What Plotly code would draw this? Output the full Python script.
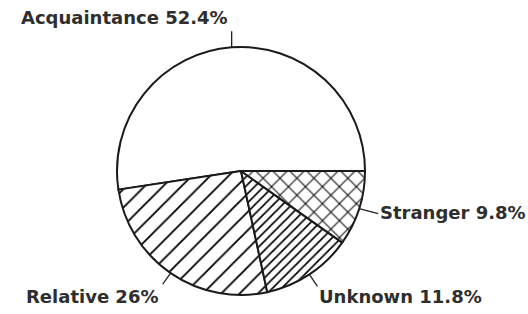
import math
import plotly.graph_objects as go

labels = ["Acquaintance", "Relative", "Unknown", "Stranger"]
values = [52.4, 26.0, 11.8, 9.8]
value_text = ["52.4%", "26%", "11.8%", "9.8%"]

W, H = 528, 314
CX, CY, R = 241, 171, 124  # pie centre / radius in pixels

pat_shape = ["", "/", "/", "x"]
pat_size = [8, 13, 6.5, 12]
pat_solid = [0.2, 0.14, 0.26, 0.16]

def px(x):
    return x / W

def py(y):
    return 1 - y / H

total = sum(values)
# first slice spans counterclockwise from 3 o'clock
rotation = 90 - 360 * values[0] / total

fig = go.Figure(go.Pie(
    labels=labels, values=values, sort=False, direction="counterclockwise",
    rotation=rotation, textinfo="none", showlegend=False,
    marker=dict(colors=["white"] * 4, line=dict(color="#1a1a1a", width=2),
                pattern=dict(shape=pat_shape, size=pat_size, solidity=pat_solid,
                             fgcolor="#000000", fgopacity=1, bgcolor="white",
                             fillmode="overlay")),
    domain=dict(x=[px(CX - R), px(CX + R)], y=[py(CY + R), py(CY - R)]),
))

# leader line offsets (pixels) and label anchors
leaders = [(0, -16), (-8, 11), (8, 12), (19, 5)]
text_off = [(-2, -14), (-3, 12), (0, 10), (0, -1)]
anchors = [("right", "middle"), ("right", "middle"), ("left", "middle"), ("left", "middle")]

cum = 0
shapes = []
annotations = []
for i, v in enumerate(values):
    mid = 2 * math.pi * (cum + v / 2) / total
    cum += v
    x0 = CX + R * math.cos(mid)
    y0 = CY - R * math.sin(mid)
    x1 = x0 + leaders[i][0]
    y1 = y0 + leaders[i][1]
    shapes.append(dict(type="line", xref="paper", yref="paper",
                       x0=px(x0), y0=py(y0), x1=px(x1), y1=py(y1),
                       line=dict(color="#222", width=1.3)))
    tx = x1 + text_off[i][0]
    ty = y1 + text_off[i][1]
    annotations.append(dict(x=px(tx), y=py(ty), xref="paper", yref="paper",
                            text=f"<b>{labels[i]} {value_text[i]}</b>", showarrow=False,
                            xanchor=anchors[i][0], yanchor=anchors[i][1],
                            font=dict(family="DejaVu Sans", size=18, color="#2e2e2e")))

fig.update_layout(width=W, height=H, margin=dict(l=0, r=0, t=0, b=0),
                  paper_bgcolor="white", plot_bgcolor="white",
                  shapes=shapes, annotations=annotations)
fig.write_html("out.html", config={"displayModeBar": False},
               post_script="document.body.style.margin='0';")
